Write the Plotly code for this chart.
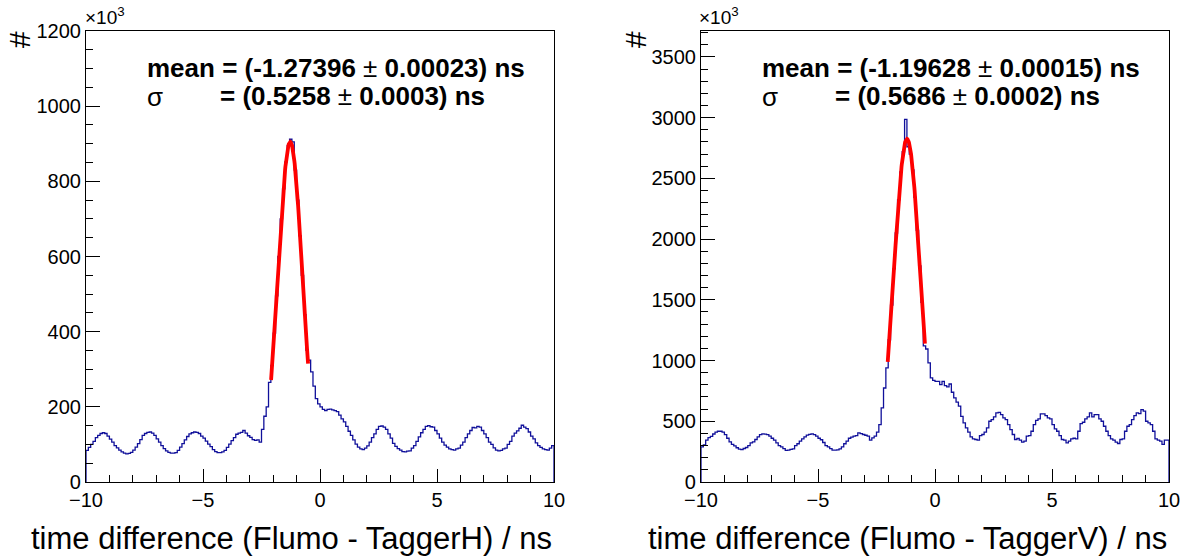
import numpy as np
import plotly.graph_objects as go

# ---------------- data (values in units of 10^3 counts) ----------------
n_bins = 200
x_min, x_max = -10.0, 10.0

counts_h = [
    84, 92, 100, 108, 118, 124, 129, 131, 129, 122,
    114, 106, 97, 91, 85, 80, 77, 75, 76, 79,
    85, 93, 102, 113, 124, 129, 132, 133, 130, 124,
    115, 106, 97, 89, 83, 79, 77, 77, 78, 84,
    93, 102, 112, 121, 128, 131, 133, 132, 129, 122,
    117, 109, 101, 94, 86, 81, 78, 78, 80, 84,
    92, 101, 110, 118, 127, 130, 132, 137, 130, 123,
    119, 113, 111, 112, 106, 140, 175, 200, 265,
    310, 396, 495, 600, 700, 780, 852, 895, 912, 905,
    830, 750, 655, 550, 445, 350,
    324, 293, 255, 222, 208, 200, 193, 190, 193, 194,
    192, 190, 187, 178, 168, 160, 148, 135, 124, 112,
    101, 93, 88, 86, 90, 96, 106, 118, 128, 140,
    148, 149, 146, 140, 128, 117, 103, 95, 89, 85,
    81, 80, 82, 83, 90, 97, 108, 120, 131, 140,
    148, 150, 147, 146, 137, 128, 117, 106, 98, 93,
    88, 86, 85, 88, 90, 98, 106, 118, 128, 137,
    145, 144, 148, 146, 137, 128, 118, 106, 100, 91,
    85, 83, 84, 88, 90, 100, 108, 122, 130, 136,
    143, 151, 146, 142, 133, 122, 115, 104, 97, 92,
    88, 86, 85, 90, 97,
]

counts_v = [
    289, 305, 345, 365, 375, 395, 410, 418, 418, 410,
    390, 360, 330, 310, 298, 282, 270, 266, 276, 284,
    300, 322, 330, 350, 372, 390, 396, 394, 390, 377,
    360, 345, 322, 300, 290, 275, 260, 262, 268, 273,
    300, 315, 336, 355, 372, 386, 392, 396, 390, 377,
    360, 348, 325, 300, 290, 275, 262, 262, 264, 273,
    290, 315, 336, 360, 370, 377, 382, 404, 398, 391,
    385, 377, 344, 363, 377,
    410, 473, 610, 774, 939, 1171, 1456, 1754, 2050, 2323,
    2552, 2719, 2986, 2760, 2700, 2570, 2344, 2072, 1779, 1479,
    1120,
    1095, 980, 857, 837, 829, 829, 802, 829, 794, 783,
    807, 739, 692, 657, 624, 541, 487, 446, 410, 371,
    355, 350, 344, 382, 391, 410, 446, 500, 514, 536,
    569, 574, 555, 528, 514, 473, 432, 391, 350, 358,
    344, 328, 336, 377, 382, 418, 473, 508, 519, 561,
    561, 547, 528, 519, 473, 437, 418, 382, 350, 344,
    322, 336, 355, 360, 355, 418, 481, 492, 519, 536,
    569, 536, 555, 555, 519, 500, 459, 418, 382, 355,
    344, 328, 317, 350, 355, 418, 459, 473, 514, 547,
    569, 563, 596, 583, 500, 487, 473, 418, 355, 344,
    336, 309, 344, 344,
]

# Gaussian fit parameters (as displayed) and fit ranges
fit_h = dict(mean=-1.27396, sigma=0.5258, amp=905, lo=-2.09, hi=-0.51)
fit_v = dict(mean=-1.19628, sigma=0.5686, amp=2825, lo=-2.02, hi=-0.43)

x_ticks = [-10, -5, 0, 5, 10]
y_range_h = [0, 1200]
y_range_v = [0, 3713]

texts_h = ("mean = (-1.27396", "0.00023) ns", "= (0.5258", "0.0003) ns")
texts_v = ("mean = (-1.19628", "0.00015) ns", "= (0.5686", "0.0002) ns")
xtitle_h = "time difference (Flumo - TaggerH) / ns"
xtitle_v = "time difference (Flumo - TaggerV) / ns"

assert len(counts_h) == n_bins and len(counts_v) == n_bins

# ---------------- figure ----------------
W, H = 1184, 556
L, R, T, B = 86, 15, 31, 74
pw = W - L - R
ph = H - T - B
FONT = "Liberation Sans, Arial, Helvetica, sans-serif"
HIST_COL = "#10109a"

edges = np.linspace(x_min, x_max, n_bins + 1)


def step_xy(vals):
    xs = [edges[0]] + list(edges[:-1]) + [edges[-1], edges[-1]]
    ys = [0] + list(vals) + [vals[-1], 0]
    return xs, ys


def fit_xy(p):
    xs = np.linspace(p["lo"], p["hi"], 120)
    ys = p["amp"] * np.exp(-0.5 * ((xs - p["mean"]) / p["sigma"]) ** 2)
    return xs, ys


fig = go.Figure()
for vals, fit, xa, ya in [(counts_h, fit_h, "x", "y"), (counts_v, fit_v, "x2", "y2")]:
    hx, hy = step_xy(vals)
    fig.add_trace(go.Scatter(x=hx, y=hy, mode="lines", line=dict(color=HIST_COL, width=1.3, shape="hv"),
                             xaxis=xa, yaxis=ya, showlegend=False, hoverinfo="skip"))
    fx, fy = fit_xy(fit)
    fig.add_trace(go.Scatter(x=fx, y=fy, mode="lines", line=dict(color="#ff0000", width=3.8),
                             xaxis=xa, yaxis=ya, showlegend=False, hoverinfo="skip"))


def px2paper_x(px):
    return (px - L) / pw


def px2paper_y(py):
    return (H - B - py) / ph


gap_left = px2paper_x(554)
gap_right = px2paper_x(701)

xaxis_common = dict(range=[x_min, x_max], tickvals=x_ticks, ticks="inside", ticklen=13, tickwidth=1.2,
                    tickcolor="black", showline=True, linecolor="black", linewidth=1.2, mirror=True,
                    showgrid=False, zeroline=False, automargin=False,
                    tickfont=dict(family=FONT, size=20, color="black"),
                    minor=dict(dtick=1, ticks="inside", ticklen=7, tickcolor="black", tickwidth=1))

yaxis_common = dict(domain=[0, 1], ticks="inside", ticklen=14, tickwidth=1.2, tickcolor="black",
                    showline=True, linecolor="black", linewidth=1.2, mirror=True, showgrid=False,
                    zeroline=False, automargin=False,
                    tickfont=dict(family=FONT, size=20, color="black"))

fig.update_layout(
    template="none",
    width=W, height=H, autosize=False,
    margin=dict(l=L, r=R, t=T, b=B, pad=0),
    paper_bgcolor="white", plot_bgcolor="white",
    xaxis=dict(domain=[0, gap_left], anchor="y", **xaxis_common),
    xaxis2=dict(domain=[gap_right, 1], anchor="y2", **xaxis_common),
    yaxis=dict(anchor="x", range=y_range_h, dtick=200,
               minor=dict(dtick=50, ticks="inside", ticklen=7, tickcolor="black", tickwidth=1),
               **yaxis_common),
    yaxis2=dict(anchor="x2", range=y_range_v, dtick=500,
                minor=dict(dtick=100, ticks="inside", ticklen=7, tickcolor="black", tickwidth=1),
                **yaxis_common),
    font=dict(family=FONT, color="black"),
    showlegend=False,
)

ann = []
for texts, xtitle, x0, xeq, xhash, xexp, xend in [
        (texts_h, xtitle_h, 145, 218, 20, 83, 554),
        (texts_v, xtitle_v, 760, 833, 636, 697, 1169)]:
    ann.append(dict(x=px2paper_x(x0), y=px2paper_y(68), xref="paper", yref="paper", xanchor="left",
                    yanchor="middle", showarrow=False,
                    text="<b>%s</b> ± <b>%s</b>" % (texts[0], texts[1]),
                    font=dict(family=FONT, size=26, color="black")))
    ann.append(dict(x=px2paper_x(x0), y=px2paper_y(97), xref="paper", yref="paper", xanchor="left",
                    yanchor="middle", showarrow=False, text="σ",
                    font=dict(family=FONT, size=26, color="black")))
    ann.append(dict(x=px2paper_x(xeq), y=px2paper_y(96), xref="paper", yref="paper", xanchor="left",
                    yanchor="middle", showarrow=False,
                    text="<b>%s</b> ± <b>%s</b>" % (texts[2], texts[3]),
                    font=dict(family=FONT, size=26, color="black")))
    ann.append(dict(x=px2paper_x(xhash), y=px2paper_y(40), xref="paper", yref="paper", xanchor="center",
                    yanchor="middle", showarrow=False, text="#", textangle=-90,
                    font=dict(family=FONT, size=30, color="black")))
    ann.append(dict(x=px2paper_x(xexp), y=px2paper_y(30), xref="paper", yref="paper", xanchor="left",
                    yanchor="bottom", showarrow=False, text="×10<sup>3</sup>",
                    font=dict(family=FONT, size=19, color="black")))
    ann.append(dict(x=px2paper_x(xend), y=px2paper_y(538), xref="paper", yref="paper", xanchor="right",
                    yanchor="middle", showarrow=False, text=xtitle,
                    font=dict(family=FONT, size=31, color="black")))
fig.update_layout(annotations=ann)

fig.write_html("out.html", config={"displayModeBar": False},
               post_script="document.body.style.margin='0';document.body.style.overflow='hidden';")
